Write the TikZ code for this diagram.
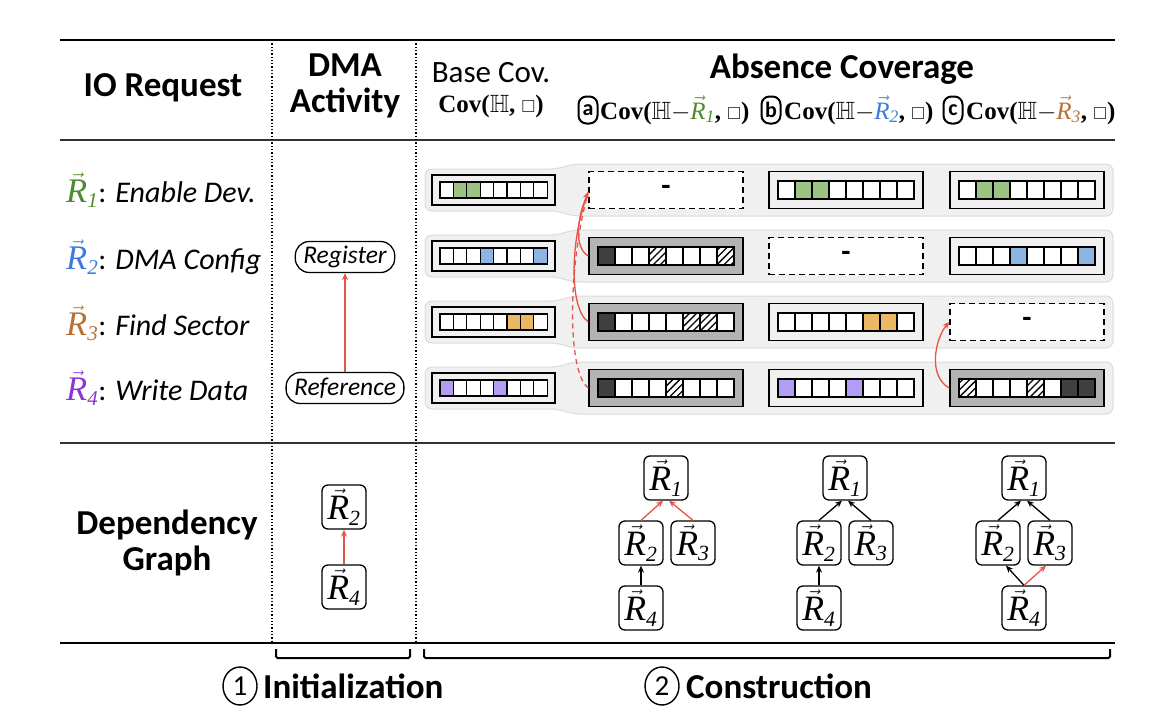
\documentclass[tikz,border=0pt]{standalone}
\usepackage{amsmath,amssymb,graphicx}
\usepackage{fontspec}
\setmainfont{Carlito}
\newfontfamily\tms{Liberation Serif}
\usetikzlibrary{arrows.meta,calc,shapes.geometric,patterns.meta}
\definecolor{rone}{HTML}{4E8B2E}
\definecolor{rtwo}{HTML}{3C7BE0}
\definecolor{rthree}{HTML}{B87333}
\definecolor{rfour}{HTML}{8A35D6}
\definecolor{cgreen}{HTML}{9DC384}
\definecolor{cblue}{HTML}{8DB4E2}
\definecolor{corange}{HTML}{EBB866}
\definecolor{cpurple}{HTML}{B29CF6}
\definecolor{cdark}{HTML}{404040}
\definecolor{boxgray}{HTML}{B3B3B3}
\definecolor{bandfill}{HTML}{F0F0F0}
\definecolor{bandline}{HTML}{DCDCDC}
\definecolor{redarr}{HTML}{E5534B}
\newcommand{\Rv}[2]{\textcolor{#1}{$\vec{\text{\tms\mdseries\itshape R}}_{\text{\tms\mdseries\itshape #2}}$}}
\newcommand{\RV}[2]{\textcolor{#1}{$\vec{\text{\scalebox{1.15}{\tms\mdseries\itshape R}}}_{\text{\tms\mdseries\itshape #2}}$}}
\newcommand{\sq}{$\scriptstyle\square$}
\newcommand{\cellrow}[4]{%
  \foreach \s [count=\i] in {#4}{
    \draw[cellsty,\s] ($(#1.center)+({(\i-5)*#2},{-#3/2})$) rectangle ++(#2,#3);
  }}
\newcommand{\bandrow}[1]{%
  \filldraw[band] (425,#1-21) -- (557,#1-21) -- (573,#1-26) -- (1113,#1-26) -- (1113,#1+26) -- (573,#1+26) -- (557,#1+21) -- (425,#1+21) -- cycle;}
\tikzset{
  hdr/.style={font=\fontsize{35}{36}\selectfont\bfseries, inner sep=0},
  subhdr/.style={font=\fontsize{31}{32}\selectfont, inner sep=0},
  covlab/.style={font=\fontsize{25}{26}\selectfont\tms\bfseries, inner sep=0},
  rowlab/.style={font=\fontsize{30}{32}\selectfont, inner sep=0, anchor=west},
  act/.style={draw, line width=1.3pt, rounded corners=14pt, minimum height=31, inner xsep=8, inner ysep=0, font=\fontsize{25.5}{26}\selectfont\itshape},
  band/.style={fill=bandfill, draw=bandline, line width=1pt, rounded corners=7pt},
  basebox/.style={draw, line width=1.4pt, fill=bandfill, minimum width=123, minimum height=30, inner sep=0},
  normbox/.style={draw, line width=1.4pt, fill=bandfill, minimum width=154, minimum height=37, inner sep=0},
  graybox/.style={normbox, fill=boxgray},
  dashbox/.style={draw, line width=1.3pt, dash pattern=on 6pt off 4pt, fill=white, minimum width=154, minimum height=37, inner sep=0, font=\fontsize{30}{30}\selectfont\bfseries},
  cellsty/.style={draw=black, line width=1.2pt, fill=white},
  W/.style={},
  G/.style={fill=cgreen},
  B/.style={fill=cblue},
  O/.style={fill=corange},
  P/.style={fill=cpurple},
  D/.style={fill=cdark},
  H/.style={preaction={fill=white}, pattern={Lines[angle=45,distance=5pt,line width=1.3pt]}},
  dep/.style={draw, line width=1.3pt, rounded corners=6pt, minimum width=44, minimum height=44, inner sep=0, font=\fontsize{31}{31}\selectfont},
  arr/.style={-{Stealth[length=7pt,width=6pt]}, line width=1.3pt},
  rarr/.style={arr, draw=redarr},
  circ/.style={draw, line width=2pt, rounded corners=8pt, minimum width=19, minimum height=27, inner sep=0, font=\fontsize{22}{22}\selectfont\bfseries},
  num/.style={draw, ellipse, line width=1.4pt, minimum width=34, minimum height=38, inner sep=0, font=\fontsize{29}{29}\selectfont},
}
\begin{document}
\begin{tikzpicture}[x=1pt,y=-1pt]
\useasboundingbox (0,0) rectangle (1175,720);
% rules
\draw[line width=2.2pt] (60,40) -- (1115,40);
\draw[line width=1.2pt, black!80] (60,140) -- (1115,140);
\draw[line width=1.2pt, black!80] (60,443) -- (1115,443);
\draw[line width=2.2pt] (60,643) -- (1115,643);
\draw[dotted, line width=1.3pt] (272,40) -- (272,643);
\draw[dotted, line width=1.3pt] (416,40) -- (416,643);
% headers
\node[hdr] (hio) at (163,88) {IO Request};
\node[hdr, align=center] (hdma) at (345,86) {DMA\\Activity};
\node[subhdr] (hbase) at (491,73) {Base Cov.};
\node[covlab] (hbcov) at (491,106) {Cov($\mathbb{H}$, \sq)};
\node[hdr] (habs) at (842,69) {Absence Coverage};
\node[circ] (ca) at (588,110) {a};
\node[covlab, anchor=west] (la) at (600,110) {Cov($\mathbb{H}$$-$\Rv{rone}{1}, \sq)};
\node[circ] (cb) at (771,110) {b};
\node[covlab, anchor=west] (lb) at (784,110) {Cov($\mathbb{H}$$-$\Rv{rtwo}{2}, \sq)};
\node[circ] (cc) at (953,110) {c};
\node[covlab, anchor=west] (lc) at (966,110) {Cov($\mathbb{H}$$-$\Rv{rthree}{3}, \sq)};
% row labels
\node[rowlab] (l1) at (66,190) {\RV{rone}{1}: \textit{Enable Dev.}};
\node[rowlab] (l2) at (66,257) {\RV{rtwo}{2}: \textit{DMA Config}};
\node[rowlab] (l3) at (66,323) {\RV{rthree}{3}: \textit{Find Sector}};
\node[rowlab] (l4) at (66,388) {\RV{rfour}{4}: \textit{Write Data}};
% DMA activity
\node[act] (reg) at (345,257) {Register};
\node[act] (ref) at (345,388) {Reference};
\draw[rarr] (ref) -- (reg);
% bands
\bandrow{190}
\bandrow{256}
\bandrow{322}
\bandrow{388}
% base coverage
\node[basebox] (s1) at (493.5,190) {};
\cellrow{s1}{13.4}{16}{W,G,G,W,W,W,W,W}
\node[basebox] (s2) at (493.5,256) {};
\cellrow{s2}{13.4}{16}{W,W,W,B,W,W,W,B}
\node[basebox] (s3) at (493.5,322) {};
\cellrow{s3}{13.4}{16}{W,W,W,W,W,O,O,W}
\node[basebox] (s4) at (493.5,388) {};
\cellrow{s4}{13.4}{16}{P,W,W,W,P,W,W,W}
% column a
\node[dashbox] (a1) at (666,190) {-};
\node[graybox] (a2) at (666,256) {};
\cellrow{a2}{17}{18}{D,W,W,H,W,W,W,H}
\node[graybox] (a3) at (666,322) {};
\cellrow{a3}{17}{18}{D,W,W,W,W,H,H,W}
\node[graybox] (a4) at (666,388) {};
\cellrow{a4}{17}{18}{D,W,W,W,H,W,W,W}
% column b
\node[normbox] (b1) at (846,190) {};
\cellrow{b1}{17}{18}{W,G,G,W,W,W,W,W}
\node[dashbox] (b2) at (846,256) {-};
\node[normbox] (b3) at (846,322) {};
\cellrow{b3}{17}{18}{W,W,W,W,W,O,O,W}
\node[normbox] (b4) at (846,388) {};
\cellrow{b4}{17}{18}{P,W,W,W,P,W,W,W}
% column c
\node[normbox] (c1) at (1027,190) {};
\cellrow{c1}{17}{18}{W,G,G,W,W,W,W,W}
\node[normbox] (c2) at (1027,256) {};
\cellrow{c2}{17}{18}{W,W,W,B,W,W,W,B}
\node[dashbox] (c3) at (1027,322) {-};
\node[graybox] (c4) at (1027,388) {};
\cellrow{c4}{17}{18}{H,W,W,W,H,W,D,D}
% red curves
\draw[line width=1.3pt, redarr] (a3.west) .. controls +(-20,-14) and +(-18,45) .. ($(a1.west)+(0,2)$);
\draw[line width=1.3pt, redarr, dash pattern=on 5pt off 4pt] (a4.west) .. controls +(-22,-16) and +(-20,70) .. ($(a1.west)+(0,2)$);
\draw[rarr] (a2.west) .. controls +(-14,-8) and +(-12,28) .. ($(a1.west)+(0,2)$);
\draw[rarr] (c4.west) .. controls +(-22,-12) and +(-14,16) .. (c3.west);
% dependency label
\node[hdr, align=center] (hdep) at (167,543) {Dependency\\Graph};
% graph in DMA column
\node[dep] (g02) at (344,507) {\RV{black}{2}};
\node[dep] (g04) at (344,587) {\RV{black}{4}};
\draw[rarr] (g04) -- (g02);
% graph a
\node[dep] (ga1) at (666,478) {\RV{black}{1}};
\node[dep] (ga2) at (641,543) {\RV{black}{2}};
\node[dep] (ga3) at (693,543) {\RV{black}{3}};
\node[dep] (ga4) at (641,608) {\RV{black}{4}};
\draw[rarr] (ga2.north) -- ($(ga1.south)+(-3,0)$);
\draw[rarr] (ga3.north) -- ($(ga1.south)+(3,0)$);
\draw[arr] (ga4) -- (ga2);
% graph b
\node[dep] (gb1) at (845,478) {\RV{black}{1}};
\node[dep] (gb2) at (819,543) {\RV{black}{2}};
\node[dep] (gb3) at (871,543) {\RV{black}{3}};
\node[dep] (gb4) at (819,608) {\RV{black}{4}};
\draw[arr] (gb2.north) -- ($(gb1.south)+(-3,0)$);
\draw[arr] (gb3.north) -- ($(gb1.south)+(3,0)$);
\draw[arr] (gb4) -- (gb2);
% graph c
\node[dep] (gc1) at (1024,478) {\RV{black}{1}};
\node[dep] (gc2) at (998,543) {\RV{black}{2}};
\node[dep] (gc3) at (1050,543) {\RV{black}{3}};
\node[dep] (gc4) at (1024,608) {\RV{black}{4}};
\draw[arr] (gc2.north) -- ($(gc1.south)+(-3,0)$);
\draw[arr] (gc3.north) -- ($(gc1.south)+(3,0)$);
\draw[arr] (gc4.north) -- ($(gc2.south)+(8,0)$);
\draw[rarr] (gc4.north) -- ($(gc3.south)+(-4,0)$);
% brackets
\draw[line width=2pt, rounded corners=1.5pt] (276,649) -- (276,658) -- (410,658) -- (410,649);
\draw[line width=2pt, rounded corners=1.5pt] (424,649) -- (424,658) -- (1110,658) -- (1110,649);
% phase labels
\node[num] (n1) at (240,686) {1};
\node[hdr, anchor=west] (tinit) at (263,686) {Initialization};
\node[num] (n2) at (662,686) {2};
\node[hdr, anchor=west] (tcons) at (686,686) {Construction};
\end{tikzpicture}
\end{document}
